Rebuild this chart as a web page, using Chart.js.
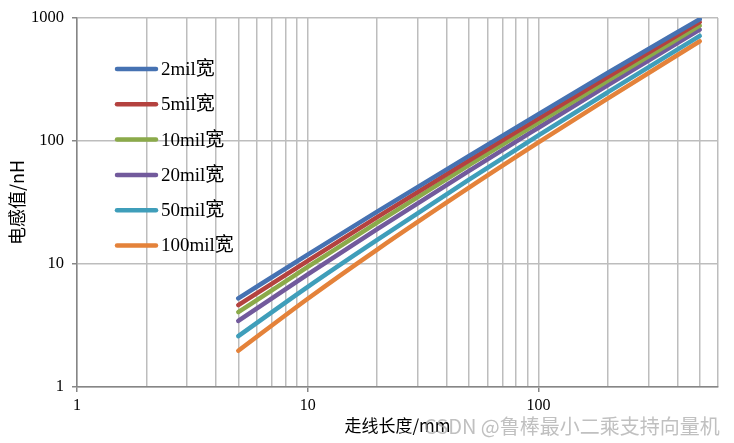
<!DOCTYPE html>
<html>
<head>
<meta charset="utf-8">
<script src="https://cdn.jsdelivr.net/npm/chart.js@4"></script>
<style>
  html, body { margin: 0; padding: 0; background: #fff; }
  #wrap { position: relative; width: 734px; height: 443px; }
  #wm { position: absolute; left: 424px; top: 411px; font-family: "Noto Sans CJK SC", "Noto Sans", sans-serif; font-size: 20px; color: rgba(165,165,165,0.7); white-space: nowrap; }
</style>
</head>
<body>
<div id="wrap">
<canvas id="c" width="734" height="443"></canvas>
<div id="wm">CSDN @鲁棒最小二乘支持向量机</div>
</div>
<script>
// Trace length (mm)
const lengths = [5, 10, 20, 50, 100, 200, 500];
// Inductance (nH)
const w2mil   = [5.26, 11.9, 26.6, 75.6, 165, 358, 975];
const w5mil   = [4.63, 10.6, 24.0, 69.3, 152, 332, 923];
const w10mil  = [4.06, 9.47, 21.7, 63.5, 141, 309, 865];
const w20mil  = [3.44, 8.24, 19.2, 57.2, 128, 284, 802];
const w50mil  = [2.59, 6.52, 15.7, 48.4, 111, 249, 714];
const w100mil = [1.97, 5.22, 13.1, 41.7, 97.2, 222, 646];
const seriesNames = ['2mil宽', '5mil宽', '10mil宽', '20mil宽', '50mil宽', '100mil宽'];
const seriesColors = ['#4672B2', '#B4423F', '#8BAA4A', '#725A9C', '#3F9EBA', '#E4823A'];
const xTicks = [1,2,3,4,5,6,7,8,9,10,20,30,40,50,60,70,80,90,100,200,300,400,500,600];
const yTicks = [1, 10, 100, 1000];

const allSeries = [w2mil, w5mil, w10mil, w20mil, w50mil, w100mil];
const datasets = allSeries.map((vals, i) => ({
  label: seriesNames[i],
  data: lengths.map((x, j) => ({x: x, y: vals[j]})),
  borderColor: seriesColors[i],
  backgroundColor: seriesColors[i],
  borderWidth: 4.5,
  pointRadius: 0,
  cubicInterpolationMode: 'monotone',
  fill: false,
  borderCapStyle: 'round'
}));

const isMajor = v => [1,10,100,1000].includes(v);

const legendPlugin = {
  id: 'inlineLegend',
  afterDatasetsDraw(chart) {
    const ctx = chart.ctx;
    ctx.save();
    chart.data.datasets.forEach((ds, i) => {
      const y = 69 + i * 35.3;
      ctx.strokeStyle = ds.borderColor;
      ctx.lineWidth = 4.5;
      ctx.lineCap = 'round';
      ctx.beginPath();
      ctx.moveTo(117, y);
      ctx.lineTo(156, y);
      ctx.stroke();
      ctx.fillStyle = '#000';
      ctx.font = '19px "Liberation Serif", "Noto Sans CJK SC", serif';
      ctx.textBaseline = 'middle';
      ctx.textAlign = 'left';
      ctx.fillText(ds.label, 161, y + 1);
    });
    ctx.restore();
  }
};

new Chart(document.getElementById('c'), {
  type: 'line',
  data: { datasets },
  plugins: [legendPlugin],
  options: {
    responsive: false,
    animation: false,
    layout: { padding: { top: 13, right: 16, left: 0, bottom: 0 } },
    plugins: { legend: { display: false }, tooltip: { enabled: false } },
    scales: {
      x: {
        type: 'logarithmic',
        min: 1, max: 600,
        afterBuildTicks: s => { s.ticks = xTicks.map(v => ({value: v})); },
        afterFit: s => { s.height = 56; },
        ticks: {
          autoSkip: false, maxRotation: 0,
          color: '#000',
          font: { family: '"Liberation Serif", serif', size: 16 },
          padding: 4,
          callback: v => isMajor(v) ? String(v) : ''
        },
        grid: {
          color: '#BDBDBD', lineWidth: 1.5,
          tickLength: 5,
          tickColor: c => (c.tick && isMajor(c.tick.value)) ? '#868686' : 'rgba(0,0,0,0)'
        },
        border: { color: '#868686', width: 1.5 },
        title: {
          display: true, text: '走线长度/mm', color: '#000',
          font: { family: '"Noto Sans CJK SC", sans-serif', size: 17 },
          padding: { top: 0, bottom: 7 }
        }
      },
      y: {
        type: 'logarithmic',
        min: 1, max: 1000,
        afterBuildTicks: s => { s.ticks = yTicks.map(v => ({value: v})); },
        afterFit: s => { s.width = 77; },
        ticks: {
          color: '#000',
          font: { family: '"Liberation Serif", serif', size: 16.5 },
          padding: 8,
          callback: v => String(v)
        },
        grid: { color: '#BDBDBD', lineWidth: 1.5, tickLength: 5, tickColor: '#868686' },
        border: { color: '#868686', width: 1.5 },
        title: {
          display: true, text: '电感值/nH', color: '#000',
          font: { family: '"Noto Sans CJK SC", sans-serif', size: 18 },
          padding: { top: 6, bottom: 0 }
        }
      }
    }
  },
});
</script>
</body>
</html>
